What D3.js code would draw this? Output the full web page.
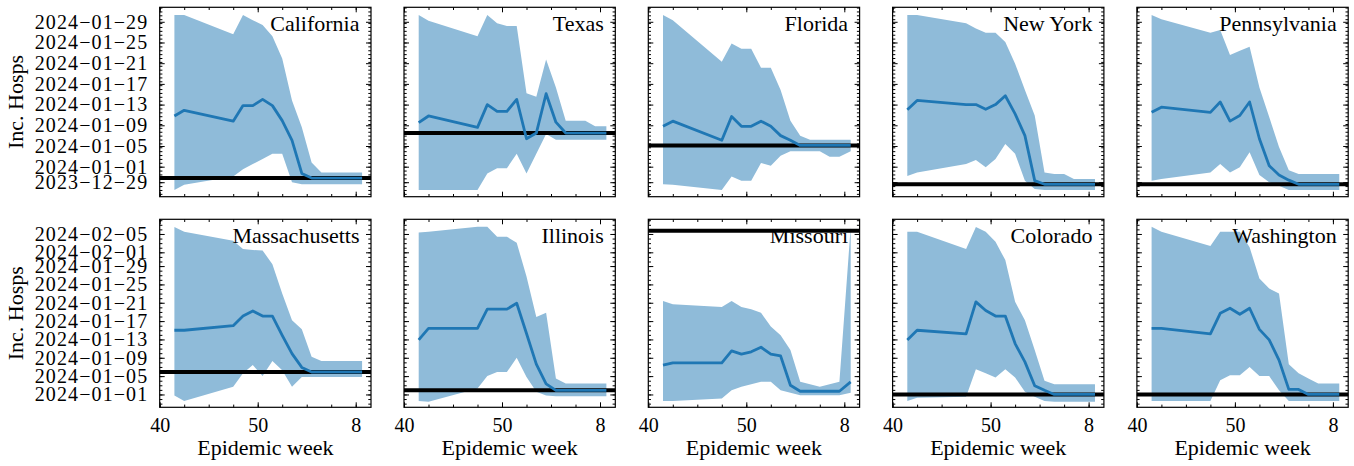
<!DOCTYPE html>
<html>
<head>
<script src="https://d3js.org/d3.v7.min.js"></script>
<style>
  body { margin: 0; background: white; }
  svg { font-family: "Liberation Serif", "Times New Roman", serif; }
</style>
</head>
<body>
<svg id="chart" width="1354" height="466"></svg>
<script>
// x = weeks counted from epi week 40 (52 = week 52, 53 -> week 1 ...)
const weekPos = [1.5, 2.5, 7.5, 8.5, 9.5, 10.5, 11.5, 12.5, 13.5, 14.5, 15.5, 16.5, 17.5, 18.5, 19.5, 20.65];
const weekTicks = [0, 10, 20];
const weekTickLabels = ["40", "50", "8"];

const states = ["California", "Texas", "Florida", "New York", "Pennsylvania",
                "Massachusetts", "Illinois", "Missouri", "Colorado", "Washington"];

const caMed = [9.8, 10.9, 8.8, 11.8, 11.8, 13.0, 11.8, 8.9, 5.1, -1.3, -2.2, -2.2, -2.2, -2.2, -2.2, -2.2];
const caHi  = [29.3, 29.3, 25.6, 29.3, 28.3, 27.4, 25.2, 20.9, 12.8, 7.6, 0.8, -1.1, -1.1, -1.1, -1.1, -1.1];
const caLo  = [-4.5, -3.5, -1.9, -0.5, 0.5, 1.5, 2.5, 2.5, -3.0, -3.4, -3.4, -3.4, -3.4, -3.4, -3.4, -3.4];

const txMed = [8.5, 9.8, 7.6, 12.0, 10.7, 10.7, 13.0, 5.4, 6.5, 14.1, 8.6, 6.5, 6.5, 6.5, 6.5, 6.5];
const txHi  = [29.3, 28.2, 25.2, 29.3, 27.7, 27.2, 27.2, 14.2, 13.5, 20.7, 15.3, 8.9, 8.9, 8.9, 7.8, 7.8];
const txLo  = [-4.5, -4.5, -4.5, -1.3, -0.3, -0.3, 2.5, -1.3, 2.5, 6.3, 5.2, 5.2, 5.2, 5.2, 5.2, 5.2];

const flMed = [7.8, 8.8, 5.1, 9.7, 7.8, 7.8, 8.8, 7.8, 6.0, 5.1, 4.1, 4.1, 4.1, 4.1, 4.1, 4.1];
const flHi  = [29.3, 28.3, 20.3, 23.8, 22.8, 22.8, 19.1, 19.1, 14.8, 8.9, 6.0, 5.2, 5.2, 5.2, 5.2, 5.2];
const flLo  = [-3.4, -3.5, -4.5, -1.9, -2.7, -2.7, 0.7, 0.2, 2.1, 3.0, 3.0, 3.0, 3.0, 1.9, 1.9, 3.0];

const nyMed = [11.0, 12.8, 12.0, 12.0, 11.1, 12.0, 13.7, 10.2, 6.0, -2.7, -3.4, -3.4, -3.4, -3.4, -3.4, -3.4];
const nyHi  = [29.3, 29.3, 27.7, 26.7, 25.9, 25.9, 24.1, 19.9, 14.8, 9.9, -1.1, -1.4, -1.4, -2.4, -2.4, -2.4];
const nyLo  = [-1.8, -1.1, 0.5, 1.3, -0.1, 1.5, 4.4, 2.5, -2.7, -4.3, -4.5, -4.5, -4.5, -4.5, -4.5, -4.5];

const paMed = [10.5, 11.5, 10.5, 12.5, 8.8, 9.9, 12.5, 5.4, 0.2, -1.6, -2.6, -3.4, -3.4, -3.4, -3.4, -3.4];
const paHi  = [29.3, 28.5, 25.9, 26.4, 21.6, 22.4, 23.2, 15.3, 9.6, 3.8, -0.7, -1.4, -1.4, -1.4, -1.4, -1.4];
const paLo  = [-2.7, -2.4, -1.1, 0.5, -1.1, -0.1, 2.8, -1.6, -3.0, -3.7, -4.5, -4.5, -4.5, -4.5, -4.5, -4.5];

const maMed = [14.0, 14.0, 15.0, 17.1, 18.2, 17.1, 17.1, 12.9, 8.9, 5.9, 4.9, 4.9, 4.9, 4.9, 4.9, 4.9];
const maHi  = [36.5, 35.5, 33.5, 31.7, 31.5, 31.4, 28.4, 22.0, 16.2, 14.2, 8.2, 7.3, 7.3, 7.3, 7.3, 7.3];
const maLo  = [-0.2, -1.4, 1.7, 4.6, 6.4, 4.0, 7.3, 5.3, 1.7, 3.8, 3.8, 3.8, 3.8, 3.8, 3.8, 3.8];

const ilMed = [11.9, 14.4, 14.4, 18.6, 18.6, 18.6, 19.9, 13.3, 6.6, 2.3, 0.9, 0.9, 0.9, 0.9, 0.9, 0.9];
const ilHi  = [35.3, 35.5, 36.6, 36.6, 34.4, 34.4, 33.1, 25.7, 16.9, 17.8, 3.5, 2.4, 2.4, 2.4, 2.4, 2.4];
const ilLo  = [-1.4, -1.6, 1.3, 4.0, 4.9, 4.9, 8.0, 3.8, 0.6, -0.2, -0.4, -0.4, -0.4, -0.4, -0.4, -0.4];

const moMed = [6.4, 6.9, 6.9, 9.5, 8.8, 9.3, 10.3, 8.8, 8.4, 2.0, 0.7, 0.7, 0.7, 0.7, 0.7, 2.75];
const moHi  = [20.4, 19.7, 19.1, 20.4, 19.1, 18.6, 17.8, 14.8, 12.9, 9.7, 2.75, 2.25, 1.7, 2.25, 2.75, 36.5];
const moLo  = [-1.4, -1.4, -0.9, 0.9, 1.7, 2.25, 2.75, 2.75, 0.9, 0.35, -0.15, -0.15, -0.15, -0.15, -0.15, 0.35];

const coMed = [11.9, 14.0, 13.2, 20.2, 18.3, 17.1, 17.1, 11.1, 7.1, 1.9, 0.9, 0, 0, 0, 0, 0];
const coHi  = [35.5, 35.5, 31.7, 36.5, 35.5, 33.3, 29.3, 20.2, 16.2, 9.7, 3.0, 2.25, 2.25, 2.25, 2.25, 2.25];
const coLo  = [-1.4, -0.7, -0.5, 5.5, 4.6, 3.7, 5.5, 3.7, 0.6, -0.5, -1.4, -1.6, -1.6, -1.6, -1.6, -1.6];

const waMed = [14.4, 14.4, 13.2, 17.7, 18.8, 17.5, 18.8, 14.2, 11.9, 7.5, 1.1, 1.1, 0, 0, 0, 0];
const waHi  = [36.6, 35.5, 32.4, 35.5, 35.5, 35.5, 32.1, 25.3, 23.1, 22.0, 6.6, 4.6, 3.5, 2.4, 2.4, 2.4];
const waLo  = [-1.4, -1.4, -1.4, 3.1, 4.2, 4.2, 6.0, 4.0, 4.0, 0.9, -1.4, -1.4, -1.4, -1.4, -1.4, -1.4];

// black horizontal reference line per state
const observed = [-2.2, 6.5, 4.1, -3.4, -3.4, 4.9, 0.9, 35.7, 0, 0];

// y tick labels of each row
const topTickLabels = ["2023-12-29", "2024-01-01", "2024-01-05", "2024-01-09", "2024-01-13",
                       "2024-01-17", "2024-01-21", "2024-01-25", "2024-01-29"];
const bottomTickLabels = ["2024-01-01", "2024-01-05", "2024-01-09", "2024-01-13", "2024-01-17",
                          "2024-01-21", "2024-01-25", "2024-01-29", "2024-02-01", "2024-02-05"];

const meds = [caMed, txMed, flMed, nyMed, paMed, maMed, ilMed, moMed, coMed, waMed];
const his  = [caHi, txHi, flHi, nyHi, paHi, maHi, ilHi, moHi, coHi, waHi];
const los  = [caLo, txLo, flLo, nyLo, paLo, maLo, ilLo, moLo, coLo, waLo];

const BASE = Date.UTC(2024, 0, 1), DAY = 864e5;
const toDate = d => new Date(BASE + d * DAY);
const parse = d3.utcParse("%Y-%m-%d");
const fmt = d3.utcFormat("%Y\u2212%m\u2212%d");

// layout
const left0 = 159.7, step = 244.3, pw = 211.3;
const tops = [7.3, 219.3], phs = [189.4, 188];
const rowDomains = [[-5.8, 30.8], [-2.8, 38.2]];   // axis limits in days
const minorStep = [0.75, 1];
const tickLabels = [topTickLabels, bottomTickLabels];

const svg = d3.select("#chart");
const x = d3.scaleLinear([0, 21.56], [0, pw]);

const minorX = d3.range(0, 21.56, 2.5);

states.forEach((name, i) => {
    const row = Math.floor(i / 5), col = i % 5;
    const ph = phs[row];
    const y = d3.scaleUtc(rowDomains[row].map(toDate), [ph, 0]);
    const majorY = tickLabels[row].map(parse);
    const start = (majorY[0] - BASE) / DAY, st = minorStep[row];
    const dom = rowDomains[row];
    const first = start + Math.ceil((dom[0] - start) / st) * st;
    const minorY = d3.range(first, dom[1], st).map(toDate);

    const g = svg.append("g")
        .attr("transform", `translate(${left0 + col * step},${tops[row]})`);

    const pts = weekPos.map((w, k) => ({ w, m: meds[i][k], lo: los[i][k], hi: his[i][k] }));

    g.append("path")
        .datum(pts)
        .attr("fill", "#8fbbd9")
        .attr("d", d3.area()
            .x(d => x(d.w))
            .y0(d => y(toDate(d.lo)))
            .y1(d => y(toDate(d.hi))));

    g.append("line")
        .attr("x1", 0).attr("x2", pw)
        .attr("y1", y(toDate(observed[i]))).attr("y2", y(toDate(observed[i])))
        .attr("stroke", "black").attr("stroke-width", 4);

    g.append("path")
        .datum(pts)
        .attr("fill", "none")
        .attr("stroke", "#1f77b4")
        .attr("stroke-width", 2.8)
        .attr("stroke-linejoin", "round")
        .attr("d", d3.line().x(d => x(d.w)).y(d => y(toDate(d.m))));

    // title
    g.append("text")
        .attr("x", pw - 11.5).attr("y", 24)
        .attr("text-anchor", "end")
        .attr("font-size", 22)
        .text(name);

    // axes, ticks pointing inward on all sides
    function ax(axis, tx, ty, labels) {
        const a = g.append("g").attr("transform", `translate(${tx},${ty})`).call(axis);
        a.select(".domain").remove();
        a.selectAll("line").attr("stroke", "black").attr("stroke-width", 1);
        a.attr("font-family", null).attr("font-size", null);
        if (!labels) a.selectAll("text").remove();
        return a;
    }
    const xb = ax(d3.axisBottom(x).tickValues(weekTicks).tickSize(-5).tickPadding(10.5)
        .tickFormat((d, k) => weekTickLabels[k]), 0, ph, row === 1);
    xb.selectAll("text").attr("font-size", 20).attr("fill", "black");
    ax(d3.axisBottom(x).tickValues(minorX).tickSize(-2.7), 0, ph, false);
    ax(d3.axisTop(x).tickValues(weekTicks).tickSize(-5), 0, 0, false);
    ax(d3.axisTop(x).tickValues(minorX).tickSize(-2.7), 0, 0, false);

    const yl = ax(d3.axisLeft(y).tickValues(majorY).tickSize(-5).tickPadding(11.4).tickFormat(fmt), 0, 0, col === 0);
    yl.selectAll("text").attr("font-size", 20).attr("letter-spacing", 1.1).attr("fill", "black");
    ax(d3.axisLeft(y).tickValues(minorY).tickSize(-2.7), 0, 0, false);
    ax(d3.axisRight(y).tickValues(majorY).tickSize(-5), pw, 0, false);
    ax(d3.axisRight(y).tickValues(minorY).tickSize(-2.7), pw, 0, false);

    g.append("rect")
        .attr("width", pw).attr("height", ph)
        .attr("fill", "none").attr("stroke", "black").attr("stroke-width", 1.2);

    if (col === 0) {
        svg.append("text")
            .attr("transform", `translate(23,${tops[row] + ph / 2}) rotate(-90)`)
            .attr("text-anchor", "middle")
            .attr("font-size", 22)
            .text("Inc. Hosps");
    }
    if (row === 1) {
        svg.append("text")
            .attr("x", left0 + col * step + pw / 2).attr("y", 455)
            .attr("text-anchor", "middle")
            .attr("font-size", 22)
            .text("Epidemic week");
    }
});
</script>
</body>
</html>
